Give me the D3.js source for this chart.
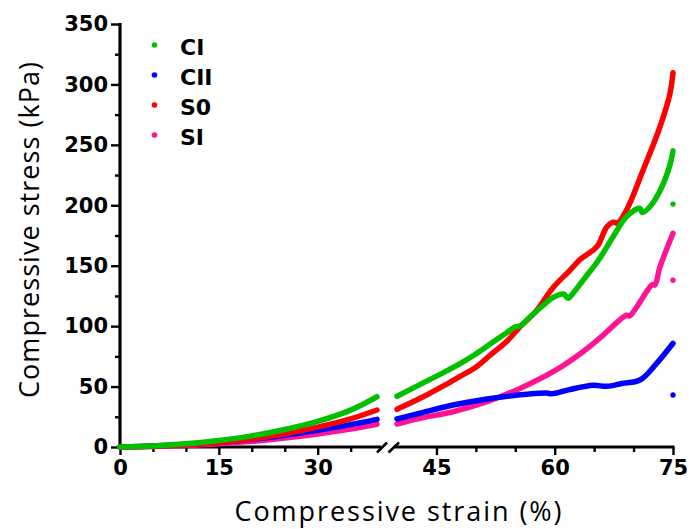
<!DOCTYPE html>
<html><head><meta charset="utf-8">
<script src="https://cdn.jsdelivr.net/npm/d3@7"></script>
<style>body{margin:0;background:#fff}svg{display:block}</style>
</head><body><div id="chart"></div>
<script>
// ---- data ----
const seriesNames = ["CI", "CII", "S0", "SI"];
const seriesColors = ["#00c000", "#0000ff", "#ff0000", "#ff1493"];

// left segment (0–39 %)
const strainLeft = [0, 5, 10, 15, 20, 25, 30, 35, 39];
const ciLeft  = [0, 0.8, 2.6, 5.3, 9.2, 14.5, 21.2, 30.5, 41.6];
const ciiLeft = [0, 0.8, 2, 3.8, 6.4, 9.8, 13.8, 18.5, 22.9];
const s0Left  = [0, 0.6, 1.8, 3.7, 6.8, 11, 16.5, 23.3, 30.6];
const siLeft  = [0, 0.5, 1.3, 2.7, 4.7, 7.4, 10.8, 14.8, 18.8];

// right segment (40–75 %)
const ciStrainRight = [40, 43, 46, 48, 50, 52, 54, 55, 55.6, 56.9, 58.6, 59.8, 61.1, 61.7, 62.3, 63.6, 65.7, 67.4, 69.1, 70.8, 71.1, 72.1, 73.4, 74.6, 75];
const ciRight       = [42, 52, 62, 69, 77, 86, 95, 99.5, 100, 107.8, 117.5, 123.8, 126.6, 123, 127, 138, 156, 174, 190.5, 197.5, 194, 199, 212.6, 233, 245];
const ciiStrainRight = [40, 42.9, 47.1, 51.4, 53.5, 56.4, 59, 59.6, 61.9, 64.9, 66.6, 68.5, 70.8, 72.9, 75];
const ciiRight       = [23.2, 27.9, 34.7, 39.7, 41.6, 43.6, 44.6, 44, 47.5, 51, 50.2, 52.5, 55.4, 69, 85.8];
const s0StrainRight = [40, 43, 46, 48, 50, 52, 54, 55.6, 57.7, 59.8, 61.9, 63.2, 64.9, 65.5, 66.6, 67.4, 68, 69.1, 71.2, 73.35, 74.6, 75];
const s0Right       = [31.2, 40.5, 51, 58.5, 66, 77, 88, 99.5, 113, 132, 146, 155, 163, 167, 182, 186, 185.5, 196, 229, 265, 292, 309.7];
const siStrainRight = [40, 42.9, 47.1, 51.4, 55.6, 59.8, 63.2, 65.7, 69.1, 69.5, 72.4, 72.7, 73.35, 75];
const siRight       = [19, 23.7, 29.2, 37.5, 48.5, 62.3, 77, 90, 109, 108.5, 134.5, 134, 149, 176.8];

// final (failure) points at 75 %
const endStrain = 75;
const endStress = [201, 43, null, 138];

// ticks
const yTicks = [0, 50, 100, 150, 200, 250, 300, 350];
const yMinor = [25, 75, 125, 175, 225, 275, 325];
const xTicksLeft = [0, 15, 30];
const xMinorLeft = [5, 10, 20, 25, 35];
const xTicksRight = [45, 60, 75];
const xMinorRight = [50, 55, 65, 70];

const yTitle = "Compressive stress (kPa)";
const xTitle = "Compressive strain (%)";

// ---- drawing ----
const W = 691, H = 529;
const svg = d3.select("#chart").append("svg").attr("width", W).attr("height", H);

const y = d3.scaleLinear().domain([0, 350]).range([447, 24]);
const xL = d3.scaleLinear().domain([0, 39]).range([120, 377]);
const xR = d3.scaleLinear().domain([40, 75]).range([397, 673]);

const leftData = [ciLeft, ciiLeft, s0Left, siLeft];
const rightStrain = [ciStrainRight, ciiStrainRight, s0StrainRight, siStrainRight];
const rightData = [ciRight, ciiRight, s0Right, siRight];

const tickFont = "'DejaVu Sans', sans-serif";

// y axis
const gy = svg.append("g").attr("transform", "translate(120,0)");
gy.call(d3.axisLeft(y).tickValues(yTicks).tickSize(9).tickSizeOuter(0).tickPadding(3));
gy.append("g").call(d3.axisLeft(y).tickValues(yMinor).tickSize(5).tickFormat(""))
  .select(".domain").remove();
gy.selectAll("path.domain").attr("stroke-width", 3.2).attr("d", `M0,${y(350)-1}V${y(0)+1.5}`);
gy.selectAll("line").attr("stroke-width", 2.4);
gy.selectAll("text").attr("font-family", tickFont).attr("font-weight", "bold")
  .attr("font-size", 21).attr("fill", "#000");

// x axis (broken)
function xAxis(scale, major, minor, x0, x1) {
  const g = svg.append("g").attr("transform", "translate(0,447)");
  g.call(d3.axisBottom(scale).tickValues(major).tickSize(8).tickSizeOuter(0).tickPadding(5));
  g.append("g").call(d3.axisBottom(scale).tickValues(minor).tickSize(5).tickFormat(""))
    .select(".domain").remove();
  g.selectAll("path.domain").attr("stroke-width", 3.2).attr("d", `M${x0},0H${x1}`);
  g.selectAll("line").attr("stroke-width", 2.4);
  g.selectAll("text").attr("font-family", tickFont).attr("font-weight", "bold")
    .attr("font-size", 21).attr("fill", "#000");
  return g;
}
xAxis(xL, xTicksLeft, xMinorLeft, 118.5, 381);
xAxis(xR, xTicksRight, xMinorRight, 395, 674.5);
// break marks
svg.append("rect").attr("x", 382).attr("y", 444).attr("width", 9).attr("height", 6).attr("fill", "#fff");
[[377, 387], [388.5, 399]].forEach(([a, b]) => {
  svg.append("line").attr("x1", a).attr("y1", 452.5).attr("x2", b).attr("y2", 442.5)
    .attr("stroke", "#000").attr("stroke-width", 2.6);
});

// curves
const plot = svg.append("g");
const curve = d3.curveCatmullRom.alpha(0.5);
const lineL = d3.line().x(d => xL(d[0])).y(d => y(d[1])).curve(curve);
const lineR = d3.line().x(d => xR(d[0])).y(d => y(d[1])).curve(curve);
const order = [3, 1, 2, 0]; // SI, CII, S0, CI (CI drawn on top)
order.forEach(i => {
  const ptsL = strainLeft.map((s, k) => [s, leftData[i][k]]);
  const ptsR = rightStrain[i].map((s, k) => [s, rightData[i][k]]);
  [lineL(ptsL), lineR(ptsR)].forEach(dstr => {
    plot.append("path").attr("d", dstr).attr("fill", "none")
      .attr("stroke", seriesColors[i]).attr("stroke-width", 5.5)
      .attr("stroke-linecap", "round").attr("stroke-linejoin", "round");
  });
  if (endStress[i] != null) {
    plot.append("circle").attr("cx", xR(endStrain)).attr("cy", y(endStress[i]))
      .attr("r", 2.7).attr("fill", seriesColors[i]);
  }
});

// legend
const leg = svg.append("g");
seriesNames.forEach((name, i) => {
  const cy = 45 + i * 30;
  leg.append("circle").attr("cx", 154.5).attr("cy", cy).attr("r", 2.8).attr("fill", seriesColors[i]);
  leg.append("text").attr("x", 180).attr("y", cy + 9.5).text(name)
    .attr("font-family", tickFont).attr("font-weight", "bold").attr("font-size", 22).attr("fill", "#000");
});

// axis titles
svg.append("text").attr("x", 398).attr("y", 521).attr("text-anchor", "middle")
  .attr("font-family", "'Open Sans', sans-serif").attr("font-size", 27).attr("font-weight", 500)
  .attr("textLength", 327).attr("lengthAdjust", "spacing")
  .attr("fill", "#000").text(xTitle);
svg.append("text").attr("transform", "translate(39,230) rotate(-90)").attr("text-anchor", "middle")
  .attr("font-family", "'Open Sans', sans-serif").attr("font-size", 27).attr("font-weight", 500)
  .attr("textLength", 336).attr("lengthAdjust", "spacing")
  .attr("fill", "#000").text(yTitle);
</script></body></html>
